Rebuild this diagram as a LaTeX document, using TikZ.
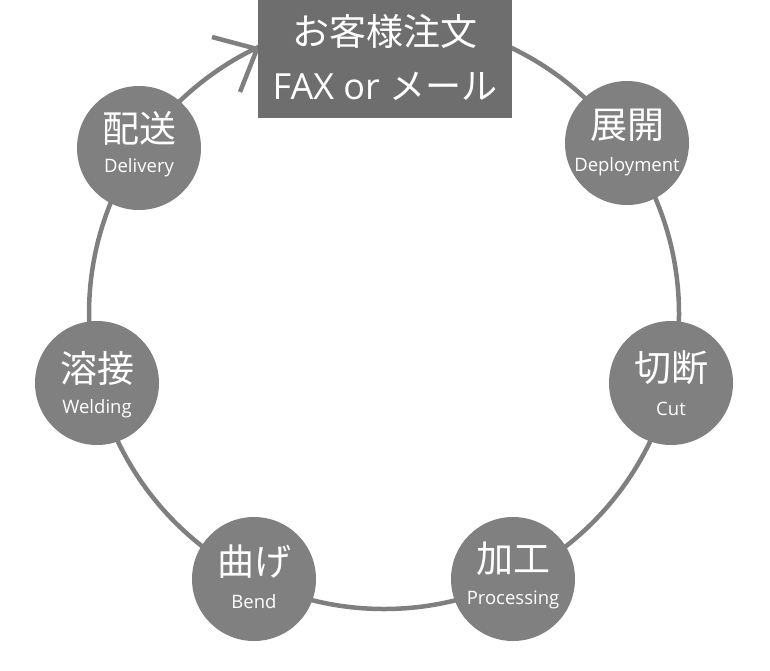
\documentclass[tikz,border=0pt]{standalone}
\usepackage{fontspec}
\setmainfont{Noto Sans CJK JP}
\newfontfamily\latinfont{Open Sans}
\definecolor{ringgray}{HTML}{7F7F7F}
\definecolor{circgray}{HTML}{808080}
\definecolor{boxgray}{HTML}{6E6E6E}
\begin{document}
\begin{tikzpicture}[x=1pt,y=-1pt,
  stage/.style={circle,fill=circgray,minimum size=124pt,inner sep=0pt},
  jp/.style={text=white,font=\fontsize{37}{39}\selectfont,inner sep=0pt},
  en/.style={text=white,font=\latinfont\fontsize{18.5}{20}\selectfont,inner sep=0pt},
  ringline/.style={draw=ringgray,line width=4.5pt}]
\useasboundingbox (0,0) rectangle (770,670);
\coordinate (c) at (384,314);
\draw[ringline] (c) circle (295);
% arrowhead
\coordinate (tip) at (257,49);
\coordinate (a1) at (212,37);
\coordinate (a2) at (240,92);
\draw[ringline,line cap=butt] (a1) -- (tip) -- (a2);
% order box
\node[fill=boxgray,minimum width=254pt,minimum height=118pt,inner sep=0pt] (order) at (385,59) {};
\node[jp] (order1) at (385,31) {お客様注文};
\node[text=white,font=\fontsize{36}{38}\selectfont,inner sep=0pt] (order2) at (385,86) {{\latinfont FAX or }メール};
% stages
\node[stage] (deploy) at (627,143) {};
\node[jp] at ([yshift=18pt]deploy.center) {展開};
\node[en] at ([yshift=-24pt]deploy.center) {Deployment};
\node[stage] (cut) at (671,383) {};
\node[jp] at ([yshift=15pt]cut.center) {切断};
\node[en] at ([yshift=-26pt]cut.center) {Cut};
\node[stage] (proc) at (513,579) {};
\node[jp] at ([yshift=20pt]proc.center) {加工};
\node[en] at ([yshift=-21pt]proc.center) {Processing};
\node[stage] (bend) at (254,579) {};
\node[jp] at ([yshift=17pt]bend.center) {曲げ};
\node[en] at ([yshift=-23pt]bend.center) {Bend};
\node[stage] (weld) at (97,383) {};
\node[jp] at ([yshift=15pt]weld.center) {溶接};
\node[en] at ([yshift=-26pt]weld.center) {Welding};
\node[stage] (deliv) at (139,148) {};
\node[jp] at ([yshift=20pt]deliv.center) {配送};
\node[en] at ([yshift=-20pt]deliv.center) {Delivery};
\end{tikzpicture}
\end{document}
